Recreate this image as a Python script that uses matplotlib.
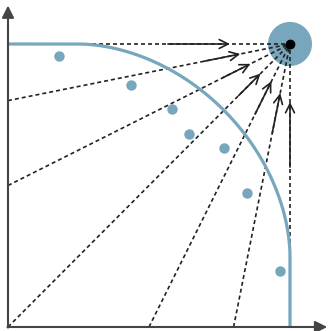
import numpy as np
import matplotlib
matplotlib.use('Agg')
import matplotlib.pyplot as plt
from matplotlib.patches import Circle

# ideal point and the rays toward the axes
ideal_x, ideal_y = 1.0, 1.0
ray_end_x = [0.0, 0.0, 0.0, 0.0, 0.5, 0.8, 1.0]
ray_end_y = [1.0, 0.8, 0.5, 0.0, 0.0, 0.0, 0.0]

# arrows along each ray, as distances from the ideal point
arrow_tail = [0.433, 0.31, 0.267, 0.257, 0.277, 0.32, 0.435]
arrow_tip = [0.213, 0.18, 0.157, 0.148, 0.147, 0.177, 0.205]

# sample points
pts_x = [0.182, 0.436, 0.582, 0.641, 0.766, 0.848, 0.965]
pts_y = [0.959, 0.855, 0.769, 0.681, 0.631, 0.472, 0.199]

blue = '#77a6bd'
dark = '#222222'
axis_col = '#444444'

fig = plt.figure(figsize=(3.28, 3.31), dpi=100)
ax = fig.add_axes([0, 0, 1, 1])
ax.set_xlim(-8 / 282, -8 / 282 + 328 / 282)
ax.set_ylim(-4 / 283, -4 / 283 + 331 / 283)
ax.axis('off')

# front curve: flat, superellipse corner, flat
c, r, p = 0.25, 0.75, 1.85
th = np.linspace(np.pi / 2, 0, 200)
cx = c + r * np.cos(th) ** (2 / p)
cy = c + r * np.sin(th) ** (2 / p)
cx = np.concatenate([[0.0], cx, [1.0]])
cy = np.concatenate([[1.0], cy, [0.0]])

# dashed rays
for ex, ey in zip(ray_end_x, ray_end_y):
    ax.plot([ex, ideal_x], [ey, ideal_y], ls=(0, (2.4, 1.8)), color=dark, lw=1.2, zorder=2)

ax.plot(cx, cy, color=blue, lw=2.3, solid_capstyle='butt', zorder=3)

# arrows toward the ideal point
for ex, ey, t0, t1 in zip(ray_end_x, ray_end_y, arrow_tail, arrow_tip):
    d = np.array([ex - ideal_x, ey - ideal_y])
    d = d / np.hypot(*d)
    ax.annotate('', xy=(ideal_x + d[0] * t1, ideal_y + d[1] * t1),
                xytext=(ideal_x + d[0] * t0, ideal_y + d[1] * t0),
                arrowprops=dict(arrowstyle='->', color=dark, lw=1.2,
                                mutation_scale=16, shrinkA=0, shrinkB=0),
                zorder=4)

ax.plot(pts_x, pts_y, 'o', color=blue, ms=7.5, mec='none', zorder=5)

ax.add_patch(Circle((ideal_x, ideal_y), 0.078, color=blue, ec='none', zorder=1))
ax.plot([ideal_x], [ideal_y], 'o', color='black', ms=6, zorder=6)

# axes with arrowheads
ax.annotate('', xy=(1.132, 0), xytext=(-0.002, 0),
            arrowprops=dict(arrowstyle='-|>', color=axis_col, lw=1.5,
                            mutation_scale=18, shrinkA=0, shrinkB=0),
            annotation_clip=False, zorder=7)
ax.annotate('', xy=(0, 1.136), xytext=(0, -0.002),
            arrowprops=dict(arrowstyle='-|>', color=axis_col, lw=1.5,
                            mutation_scale=18, shrinkA=0, shrinkB=0),
            annotation_clip=False, zorder=7)

fig.savefig('out.png', dpi=100)
